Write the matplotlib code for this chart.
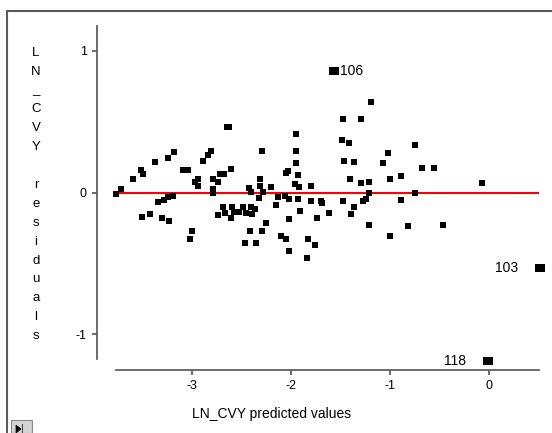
import matplotlib
matplotlib.use("Agg")
import matplotlib.pyplot as plt
from matplotlib.lines import Line2D
from matplotlib.patches import Rectangle, Polygon

plt.rcParams['font.family'] = ['Liberation Sans', 'DejaVu Sans']

# ---- data ----
pred = [-3.763, -3.717, -3.596, -3.514, -3.497, -3.504, -3.426, -3.373, -3.338, -3.284,
        -3.302, -3.231, -3.238, -3.185, -3.238, -3.188, -3.089, -3.035, -3.000, -3.018,
        -2.965, -2.940, -2.936, -2.890, -2.840, -2.812, -2.791, -2.791, -2.784, -2.734,
        -2.716, -2.674, -2.606, -2.734, -2.688, -2.663, -2.600, -2.602, -2.574, -2.521,
        -2.485, -2.450, -2.407, -2.396, -2.361, -2.627, -2.645, -2.421, -2.407, -2.467,
        -2.414, -2.354, -2.318, -2.315, -2.294, -2.294, -2.325, -2.279, -2.251, -2.201,
        -2.155, -2.130, -2.105, -2.052, -2.052, -2.030, -2.066, -2.023, -2.016, -2.023,
        -1.952, -1.952, -1.952, -1.931, -1.959, -1.924, -1.931, -1.909, -1.828, -1.838,
        -1.803, -1.803, -1.757, -1.740, -1.697, -1.686, -1.615,
        -1.480, -1.491, -1.420, -1.466, -1.370, -1.473, -1.403, -1.396, -1.370, -1.296,
        -1.296, -1.271, -1.243, -1.214, -1.214, -1.214, -1.197, -1.072, -1.022, -1.005,
        -1.005, -0.887, -0.887, -0.816, -0.753, -0.746, -0.682, -0.561, -0.468, -0.078]

resid = [-0.012, 0.026, 0.096, 0.160, 0.130, -0.170, -0.148, 0.219, -0.068, -0.052,
         -0.176, -0.200, 0.242, 0.287, -0.028, -0.024, 0.162, 0.160, -0.270, -0.330,
         0.078, 0.096, 0.049, 0.226, 0.266, 0.296, 0.096, 0.024, 0.000, 0.078,
         0.129, 0.134, 0.165, -0.158, -0.099, -0.141, -0.099, -0.181, -0.134, -0.139,
         -0.099, -0.141, -0.101, -0.153, -0.118, 0.466, 0.466, 0.031, 0.007, -0.353,
         -0.270, -0.353, 0.096, 0.047, 0.296, -0.268, -0.038, 0.007, -0.212, 0.042,
         -0.085, -0.028, -0.304, -0.325, 0.136, 0.155, -0.021, -0.042, -0.186, -0.409,
         0.414, 0.296, 0.212, 0.125, 0.059, 0.042, -0.047, -0.132, -0.325, -0.459,
         0.049, -0.059, -0.369, -0.176, -0.056, -0.075, -0.141,
         0.520, 0.372, 0.353, 0.224, 0.216, -0.059, 0.096, -0.148, -0.099, 0.520,
         0.066, -0.059, -0.047, 0.073, -0.005, -0.228, 0.642, 0.212, 0.282, 0.096,
         -0.308, 0.115, -0.054, -0.238, -0.005, 0.339, 0.176, 0.176, -0.228, 0.066]

lab_pred = [-1.562, 0.515, -0.011]
lab_resid = [0.856, -0.534, -1.188]
lab_text = ['106', '103', '118']
lab_side = ['right', 'left', 'left']

x_ticks = [-3, -2, -1, 0]
y_ticks = [-1, 0, 1]
x_label = "LN_CVY predicted values"
y_label_chars = ['L', 'N', '_', 'C', 'V', 'Y', ' ', 'r', 'e', 's', 'i', 'd', 'u', 'a', 'l', 's']
xlim = (-3.77, 0.50)
ylim = (-1.174, 1.176)

# ---- figure ----
W, H = 552, 433
fig = plt.figure(figsize=(W / 100, H / 100), dpi=100)
fig.patch.set_facecolor('white')

def fx(px):
    return px / W

def fy(py):
    return (H - py) / H

ax = fig.add_axes([fx(115.5), fy(359), fx(539) - fx(115.5), fy(26) - fy(359)])
ax.set_xlim(*xlim)
ax.set_ylim(*ylim)
ax.patch.set_alpha(0)

axis_col = '#606060'
for s in ['top', 'right']:
    ax.spines[s].set_visible(False)
ax.spines['left'].set_position(('outward', 18.5 * 0.72))
ax.spines['bottom'].set_position(('outward', 11 * 0.72))
for s in ['left', 'bottom']:
    ax.spines[s].set_color(axis_col)
    ax.spines[s].set_linewidth(1.3)

ax.set_xticks(x_ticks)
ax.set_yticks(y_ticks)
ax.set_xticklabels([str(v) for v in x_ticks])
ax.set_yticklabels([str(v) for v in y_ticks])
ax.tick_params(axis='both', colors=axis_col, labelcolor='black', labelsize=9,
               width=1.3, length=3.5, pad=4)

# zero line
ax.axhline(0, color='#ff0000', lw=1.5, zorder=2)

rect_small = [(-1.3, -1), (1.3, -1), (1.3, 1), (-1.3, 1), (-1.3, -1)]
rect_big = [(-1.25, -1), (1.25, -1), (1.25, 1), (-1.25, 1), (-1.25, -1)]

ax.plot(pred, resid, linestyle='none', marker=rect_small, markersize=4.9,
        markerfacecolor='black', markeredgewidth=0, zorder=3, clip_on=False)
ax.plot(lab_pred, lab_resid, linestyle='none', marker=rect_big, markersize=7.0,
        markerfacecolor='black', markeredgewidth=0, zorder=3, clip_on=False)

for xv, yv, t, side in zip(lab_pred, lab_resid, lab_text, lab_side):
    if side == 'right':
        ax.annotate(t, (xv, yv), xytext=(4.3, 0), textcoords='offset points',
                    ha='left', va='center', fontsize=10, annotation_clip=False)
    else:
        ax.annotate(t, (xv, yv), xytext=(-15.8, 0), textcoords='offset points',
                    ha='right', va='center', fontsize=10, annotation_clip=False)

# x label
fig.text(fx(272), fy(414), x_label, ha='center', va='center', fontsize=10)

# stacked y label
for i, ch in enumerate(y_label_chars):
    fig.text(fx(36), fy(55.7 + 18.9 * i), ch, ha='center', va='baseline', fontsize=9.5)

# panel border (left and top edges)
fig.add_artist(Line2D([fx(7), fx(7), fx(W + 5)], [fy(H + 5), fy(10.5), fy(10.5)],
                      transform=fig.transFigure, color='#5a5a5a', lw=1.5))

# small button icon at bottom-left
fig.add_artist(Rectangle((fx(11), fy(433)), fx(32) - fx(11), fy(420) - fy(433),
                         transform=fig.transFigure, facecolor='#d4d4d4',
                         edgecolor='#8a8a8a', lw=0.8))
fig.add_artist(Polygon([(fx(16), fy(425)), (fx(16), fy(433)), (fx(21), fy(429))],
                       closed=True, transform=fig.transFigure,
                       facecolor='black', edgecolor='black', lw=0.5))
fig.add_artist(Rectangle((fx(21.5), fy(433)), fx(1.2), fy(424) - fy(433),
                         transform=fig.transFigure, facecolor='#444444', lw=0))

fig.savefig('out.png', dpi=100)
